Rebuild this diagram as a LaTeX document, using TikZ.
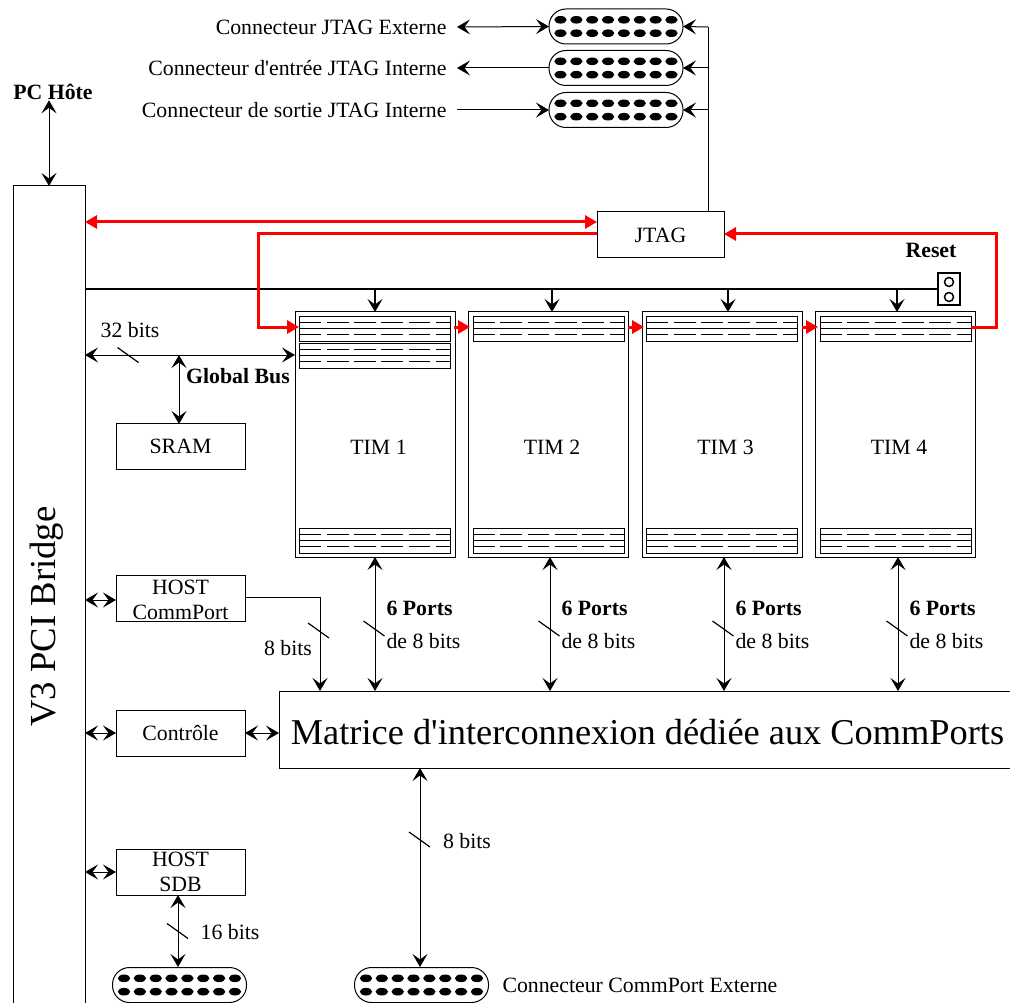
\documentclass[tikz,border=0pt]{standalone}
\usepackage{fontspec}
\setmainfont{Liberation Serif}
\newfontfamily\plainserif{Liberation Serif}
\usetikzlibrary{arrows.meta}
\newcommand{\fsize}[1]{\fontsize{#1}{25}\selectfont}
\newcommand{\pinrow}[2]{%
  \foreach \i in {0,...,7} {
    \fill (#1-55.5+\i*15.85,#2-6.7) ellipse (6.2 and 3.8);
    \fill (#1-55.5+\i*15.85,#2+6.7) ellipse (6.2 and 3.8);
  }}
\newcommand{\strip}[2]{%
  \draw (#1-75.5,#2) rectangle (#1+75.5,#2+25);
  \draw (#1-75.5,#2+12.5) -- (#1+75.5,#2+12.5);
  \draw[dash pattern=on 21.7pt off 5.6pt] (#1-75.5,#2+6.2) -- (#1+75.5,#2+6.2);
  \draw[dash pattern=on 21.7pt off 5.6pt] (#1-75.5,#2+18.7) -- (#1+75.5,#2+18.7);}
\newcommand{\bitbar}[2]{\draw[line width=1.2pt] (#1-10.5,#2-7.5) -- (#1+10.5,#2+7.5);}
\begin{document}
\begin{tikzpicture}[x=1pt, y=-1pt, line width=1pt,
    box/.style={draw, inner sep=0pt, outer sep=0pt, minimum width=129pt,
                minimum height=46pt, align=center, font=\fsize{21.8}},
    tim/.style={draw, inner sep=0pt, outer sep=0pt, minimum width=160pt,
                minimum height=245pt},
    pill/.style={draw, rounded corners=17pt, inner sep=0pt, outer sep=0pt,
                 minimum width=134pt, minimum height=35pt},
    txt/.style={inner sep=0pt, font=\fsize{21.8}},
    btxt/.style={inner sep=0pt, font=\fsize{21.8}\bfseries},
    link/.style={{Stealth[length=13pt,width=15pt,inset=5.5pt]}-{Stealth[length=13pt,width=15pt,inset=5.5pt]}},
    linkto/.style={-{Stealth[length=13pt,width=15pt,inset=5.5pt]}},
    redlink/.style={red, line width=3pt, -{Triangle[length=12pt,width=13pt]}}]

  \useasboundingbox (0,0) rectangle (1010,1003);

  \node[box, minimum width=72pt, minimum height=824pt] (bridge) at (49,598) {};
  \node[txt, font=\fsize{36.7}, rotate=90] (bridgetext) at (47,616.5) {V3 PCI Bridge};
  \node[btxt] (pc) at (53,92) {PC Hôte};
  \draw[link] (pc.south -| 49,116) -- (49,186);

  \node[pill] (ext) at (616,26.5) {};
  \node[pill] (in)  at (616,68)   {};
  \node[pill] (out) at (616,110)  {};
  \pinrow{616}{26.5}
  \pinrow{616}{68}
  \pinrow{616}{110}
  \node[txt, anchor=east] (extlabel) at (447,27)  {Connecteur JTAG Externe};
  \node[txt, anchor=east] (inlabel)  at (447,68)  {Connecteur d{\plainserif'}entrée JTAG Interne};
  \node[txt, anchor=east] (outlabel) at (447,110) {Connecteur de sortie JTAG Interne};
  \draw[link] ([xshift=10pt]extlabel.east) -- (ext.west);
  \draw[linkto] (in.west) -- ([xshift=10pt]inlabel.east);
  \draw[linkto] ([xshift=10pt]outlabel.east) -- (out.west);

  \node[box, minimum width=127pt] (jtag) at (660.5,235) {JTAG};
  \coordinate (jtagup) at (708,212);
  \draw (jtagup) -- (708,27);
  \draw[linkto] (708,27) -- (ext.east);
  \draw[linkto] (708,68) -- (in.east);
  \draw[linkto] (708,110) -- (out.east);

  \foreach \n/\x in {1/375,2/548.5,3/722,4/895.5} {
    \node[tim] (tim\n) at (\x,434.5) {};
    \node[txt] (timlabel\n) at (\x+3.5,447) {TIM \n};
    \strip{\x}{316}
    \strip{\x}{528}
  }
  \strip{375}{343}

  \node[draw, line width=2pt, inner sep=0pt, minimum width=22pt, minimum height=32pt, outer sep=0pt] (reset) at (949,289) {};
  \draw[line width=1.5pt] (949,282) circle (4.5);
  \draw[line width=1.5pt] (949,297) circle (4.5);
  \node[btxt] (resetlabel) at (931,250) {Reset};
  \draw[line width=2pt] (85,289) -- (reset.west);
  \foreach \n/\x in {1/375,2/552,3/728,4/897}
    \draw[linkto, line width=2pt] (\x,289) -- (\x,312);

  \draw[{Triangle[length=12pt,width=13pt]}-{Triangle[length=12pt,width=13pt]}, red, line width=3pt] (85,222) -- ([yshift=13pt]jtag.west);
  \draw[redlink] ([yshift=1pt]jtag.west) -- (258,234) -- (258,327) -- (299,327);
  \draw[redlink] (454,327) -- (470,327);
  \draw[redlink] (628,327) -- (644,327);
  \draw[redlink] (802,327) -- (818,327);
  \draw[redlink] (971,327) -- (996,327) -- (996,234) -- ([yshift=1pt]jtag.east);

  \node[box] (sram) at (180.5,446.5) {SRAM};
  \node[box] (hostcp) at (180.5,598) {\rule{0pt}{18.4pt}HOST\\CommPort};
  \node[box] (ctrl) at (180.5,733) {Contrôle};
  \node[box] (hostsdb) at (180.5,872) {HOST\\SDB};

  \draw[link] (85,355) -- (tim1.west |- 0,355);
  \draw[link] (179,355) -- (179,424);
  \node[txt] (bus) at (130,330) {32 bits};
  \node[btxt] (global) at (238,376) {Global Bus};
  \bitbar{128}{355}

  \node[box, minimum width=737pt, minimum height=77pt, font=\fsize{36.35}] (matrix) at (647.5,729.5)
    {\rule{0pt}{29.8pt}Matrice d{\plainserif'}interconnexion dédiée aux CommPorts};

  \draw[link] (85,600) -- (116,600);
  \draw[link] (85,733) -- (ctrl.west);
  \draw[link] (ctrl.east) -- (matrix.west |- ctrl.east);
  \draw[link] (85,872) -- (hostsdb.west);

  \draw[linkto] (245,597) -- (320,597) -- (320,691);
  \bitbar{318.5}{630.5}
  \node[txt] (bits) at (288,648) {8 bits};

  \foreach \n/\x in {1/375,2/550,3/724,4/898} {
    \draw[link] (\x,557) -- (\x,691);
    \bitbar{\x-1}{628.5}
    \node[btxt, anchor=west] (ports\n) at (\x+11,608) {6 Ports};
    \node[txt, anchor=west] (de\n) at (\x+11,641) {de 8 bits};
  }

  \node[pill] (sdbpin) at (179.5,985) {};
  \node[pill] (cppin) at (421.5,985) {};
  \pinrow{179.5}{985}
  \pinrow{421.5}{985}
  \draw[link] (178,895) -- (178,967);
  \bitbar{177.5}{931}
  \node[txt] (sbits) at (230,932) {16 bits};
  \draw[link] (420,768) -- (420,967);
  \bitbar{419.5}{839.5}
  \node[txt] (mbits) at (467,841) {8 bits};
  \node[txt, anchor=west] (cplabel) at (502,985) {Connecteur CommPort Externe};
\end{tikzpicture}
\end{document}
